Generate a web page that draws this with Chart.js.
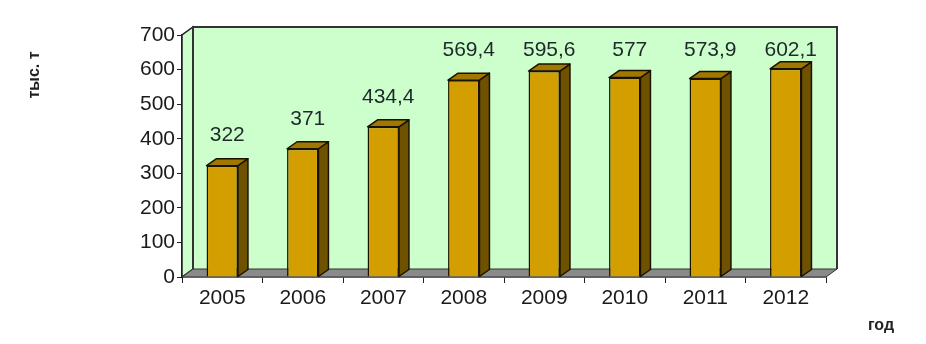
<!DOCTYPE html>
<html>
<head>
<meta charset="utf-8">
<script src="https://cdn.jsdelivr.net/npm/chart.js@4.4.0/dist/chart.umd.min.js"></script>
<style>
  html, body { margin: 0; padding: 0; background: #fff; }
  #wrap { width: 926px; height: 344px; }
</style>
</head>
<body>
<div id="wrap"><canvas id="chart" width="926" height="344"></canvas></div>
<script>
// data
const years = ['2005', '2006', '2007', '2008', '2009', '2010', '2011', '2012'];
const output = [322, 371, 434.4, 569.4, 595.6, 577, 573.9, 602.1];
const yTicks = [0, 100, 200, 300, 400, 500, 600, 700];

// 3D depth of the wall and the bars
const WALL_DX = 11, WALL_DY = 8;
const BAR_DX = 10, BAR_DY = 7;
const FONT = '"Liberation Sans", Arial, sans-serif';

const fmt = v => String(v).replace('.', ',');

const threeD = {
  id: 'threeD',
  beforeDatasetsDraw(chart) {
    const { ctx, chartArea: a } = chart;
    ctx.save();
    // back wall
    ctx.fillStyle = '#CCFFCC';
    ctx.fillRect(a.left + WALL_DX, a.top - WALL_DY, a.right - a.left, a.bottom - a.top);
    // left wall
    ctx.beginPath();
    ctx.moveTo(a.left, a.bottom);
    ctx.lineTo(a.left, a.top);
    ctx.lineTo(a.left + WALL_DX, a.top - WALL_DY);
    ctx.lineTo(a.left + WALL_DX, a.bottom - WALL_DY);
    ctx.closePath();
    ctx.fill();
    ctx.strokeStyle = '#222';
    ctx.lineWidth = 1.5;
    ctx.stroke();
    // wall outline
    ctx.beginPath();
    ctx.moveTo(a.left + WALL_DX, a.bottom - WALL_DY);
    ctx.lineTo(a.left + WALL_DX, a.top - WALL_DY);
    ctx.lineTo(a.right + WALL_DX, a.top - WALL_DY);
    ctx.lineTo(a.right + WALL_DX, a.bottom - WALL_DY);
    ctx.strokeStyle = '#333';
    ctx.lineWidth = 2;
    ctx.stroke();
    // floor
    ctx.beginPath();
    ctx.moveTo(a.left, a.bottom);
    ctx.lineTo(a.left + WALL_DX, a.bottom - WALL_DY);
    ctx.lineTo(a.right + WALL_DX, a.bottom - WALL_DY);
    ctx.lineTo(a.right, a.bottom);
    ctx.closePath();
    ctx.fillStyle = '#8a8a8a';
    ctx.fill();
    ctx.strokeStyle = '#333';
    ctx.lineWidth = 1;
    ctx.stroke();
    ctx.restore();
  },
  afterDatasetsDraw(chart) {
    const { ctx } = chart;
    const meta = chart.getDatasetMeta(0);
    ctx.save();
    ctx.lineJoin = 'round';
    ctx.strokeStyle = '#1a1200';
    ctx.lineWidth = 1.5;
    meta.data.forEach((bar, i) => {
      const l = bar.x - bar.width / 2, r = bar.x + bar.width / 2;
      const t = bar.y, b = bar.base;
      // side
      ctx.beginPath();
      ctx.moveTo(r, b);
      ctx.lineTo(r, t);
      ctx.lineTo(r + BAR_DX, t - BAR_DY);
      ctx.lineTo(r + BAR_DX, b - BAR_DY);
      ctx.closePath();
      ctx.fillStyle = '#6E5200';
      ctx.fill();
      ctx.stroke();
      // top
      ctx.beginPath();
      ctx.moveTo(l, t);
      ctx.lineTo(l + BAR_DX, t - BAR_DY);
      ctx.lineTo(r + BAR_DX, t - BAR_DY);
      ctx.lineTo(r, t);
      ctx.closePath();
      ctx.fillStyle = '#A07800';
      ctx.fill();
      ctx.stroke();
      // value label, kept clear of the wall top
      ctx.fillStyle = '#1e2a2a';
      ctx.font = '21px ' + FONT;
      ctx.textAlign = 'center';
      ctx.textBaseline = 'middle';
      ctx.fillText(fmt(output[i]), bar.x + BAR_DX / 2, Math.max(t - 30, 50));
    });
    ctx.restore();
  },
  afterDraw(chart) {
    const { ctx } = chart;
    ctx.save();
    ctx.fillStyle = '#222';
    ctx.font = 'bold 16px ' + FONT;
    ctx.textAlign = 'center';
    ctx.textBaseline = 'middle';
    ctx.translate(35, 75);
    ctx.rotate(-Math.PI / 2);
    ctx.fillText('тыс. т', 0, 0);
    ctx.restore();
    ctx.save();
    ctx.fillStyle = '#222';
    ctx.font = 'bold 16px ' + FONT;
    ctx.textAlign = 'center';
    ctx.textBaseline = 'middle';
    ctx.fillText('год', 881, 326);
    ctx.restore();
  }
};

new Chart(document.getElementById('chart'), {
  type: 'bar',
  data: {
    labels: years,
    datasets: [{
      data: output,
      backgroundColor: '#D29E00',
      borderColor: '#1a1200',
      borderWidth: 1.5,
      barPercentage: 1,
      categoryPercentage: 0.39
    }]
  },
  options: {
    responsive: false,
    animation: false,
    layout: { padding: { top: 35, right: 100, left: 0, bottom: 0 } },
    plugins: { legend: { display: false }, tooltip: { enabled: false } },
    scales: {
      x: {
        afterFit: s => { s.height = 67; },
        grid: { offset: true, drawOnChartArea: false, tickLength: 6, color: '#222' },
        border: { display: true, color: '#333', width: 1.5 },
        ticks: { color: '#1a1a1a', font: { family: FONT, size: 21 }, padding: 3 }
      },
      y: {
        min: 0,
        max: 700,
        afterFit: s => { s.width = 182; },
        afterBuildTicks: s => { s.ticks = yTicks.map(v => ({ value: v })); },
        grid: { drawOnChartArea: false, tickLength: 5, color: '#222' },
        border: { display: true, color: '#111', width: 2 },
        ticks: { color: '#1a1a1a', font: { family: FONT, size: 21 }, padding: 2 }
      }
    }
  },
  plugins: [threeD]
});
</script>
</body>
</html>
